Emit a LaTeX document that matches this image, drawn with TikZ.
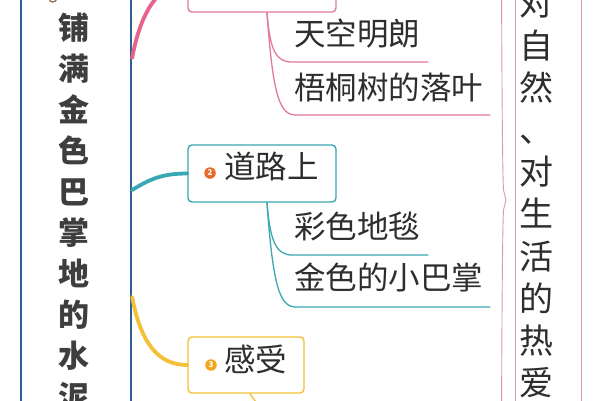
\documentclass[tikz,border=0pt]{standalone}
\usepackage{fontspec}
\setmainfont{Noto Sans CJK SC}
\definecolor{rootblue}{HTML}{2C5E97}
\definecolor{pinkc}{HTML}{E8638A}
\definecolor{pinkbox}{HTML}{E27A9A}
\definecolor{tealc}{HTML}{3AA7B4}
\definecolor{yellowc}{HTML}{F4C038}
\definecolor{txt}{HTML}{2E2E2E}
\definecolor{roottxt}{HTML}{3E3E3E}
\definecolor{bracec}{HTML}{D89AB0}
\definecolor{badgeor}{HTML}{E8692A}
\definecolor{badgeyl}{HTML}{F2A71B}
\definecolor{iconbrown}{HTML}{8A6A4A}
\tikzset{
  ch/.style={inner sep=0pt, text height=0.88em, text depth=0.12em, text=txt},
  rootch/.style={ch, font=\fontsize{31}{31}\selectfont\bfseries, text=roottxt},
  sidech/.style={ch, font=\fontsize{34}{34}\selectfont},
  leaf/.style={ch, anchor=west, font=\fontsize{31.5}{31.5}\selectfont},
  topic/.style={draw, rounded corners=4pt, line width=1.4pt, fill=white, inner sep=0pt},
  badge/.style={circle, inner sep=0pt, minimum size=11.5pt, text=white, font=\fontsize{8}{8}\selectfont\bfseries},
  branch/.style={line width=3.8pt, line cap=round},
  sub/.style={line width=1.3pt, line cap=round},
}
\begin{document}
\begin{tikzpicture}[x=1pt,y=-1pt]
\useasboundingbox (0,0) rectangle (600,400);
\fill[white] (0,0) rectangle (600,400);
% root box (extends beyond frame)
\node[draw=rootblue, line width=2.3pt, minimum width=110pt, minimum height=700pt, inner sep=0pt] (root) at (76,200) {};
\foreach \c [count=\i] in {铺,满,金,色,巴,掌,地,的,水,泥}
  \node[rootch] (title\i) at (74,{36+41*(\i-1)}) {\c};
% small icon remnant
\draw[iconbrown, line width=1.2pt] (49,-1) .. controls (50,3) and (55,3) .. (57,-1);
% side box
\node[draw=bracec, line width=0.9pt, minimum width=66pt, minimum height=700pt, inner sep=0pt] (side) at (548,200) {};
\foreach \c [count=\i] in {对,自,然,、,对,生,活,的,热,爱}
  \node[sidech] (side\i) at (536,{12+42.2*(\i-1)}) {\c};
% brace
\draw[bracec, line width=0.9pt] (501.5,-20) .. controls (502,100) and (502.5,170) .. (503.5,190) -- (506,200) -- (503.5,210) .. controls (502.5,230) and (502,300) .. (501.5,420);
% topic boxes
\node[topic, draw=pinkbox, minimum width=148pt, minimum height=57pt] (b1) at (262,-16.5) {};
\node[topic, draw=tealc, minimum width=148pt, minimum height=57pt] (b2) at (262,173.5) {};
\node[topic, draw=yellowc, minimum width=116pt, minimum height=56pt] (b3) at (246,365) {};
\node[badge, fill=badgeor] (n2) at (210,173) {2};
\node[badge, fill=badgeyl] (n3) at (211,365) {3};
\node[leaf] (t2) at (224,175) {道路上};
\node[leaf] (t3) at (224,367.5) {感受};
% leaves
\node[leaf] (t11) at (294,42) {天空明朗};
\node[leaf] (t12) at (294,96) {梧桐树的落叶};
\node[leaf] (t21) at (294,235) {彩色地毯};
\node[leaf] (t22) at (294,286) {金色的小巴掌};
\coordinate (u11s) at (292,62);  \coordinate (u11e) at (428,62);
\coordinate (u12s) at (296,115); \coordinate (u12e) at (490,115);
\coordinate (u21s) at (292,255); \coordinate (u21e) at (428,255);
\coordinate (u22s) at (296,307); \coordinate (u22e) at (490,307);
\coordinate (s3) at (258,405);
% main branches
\draw[branch, pinkc] ([yshift=142pt]root.east) .. controls +(7,-38) and +(-33,0) .. (b1.west);
\draw[branch, tealc] ([yshift=10pt]root.east) .. controls +(19,-12) and +(-23,0) .. (b2.west);
\draw[branch, yellowc] ([yshift=-97pt]root.east) .. controls +(9,48) and +(-28,0) .. (b3.west);
% sub branches
\draw[sub, pinkbox] ([xshift=5pt]b1.south) .. controls +(3,38) and +(-16,0) .. (u11s) -- (u11e);
\draw[sub, pinkbox] ([xshift=5pt]b1.south) .. controls +(6,85) and +(-16,0) .. (u12s) -- (u12e);
\draw[sub, tealc] ([xshift=5pt]b2.south) .. controls +(3,38) and +(-16,0) .. (u21s) -- (u21e);
\draw[sub, tealc] ([xshift=5pt]b2.south) .. controls +(6,85) and +(-16,0) .. (u22s) -- (u22e);
\draw[sub, yellowc] ([xshift=4pt]b3.south) -- (s3);
\end{tikzpicture}
\end{document}
